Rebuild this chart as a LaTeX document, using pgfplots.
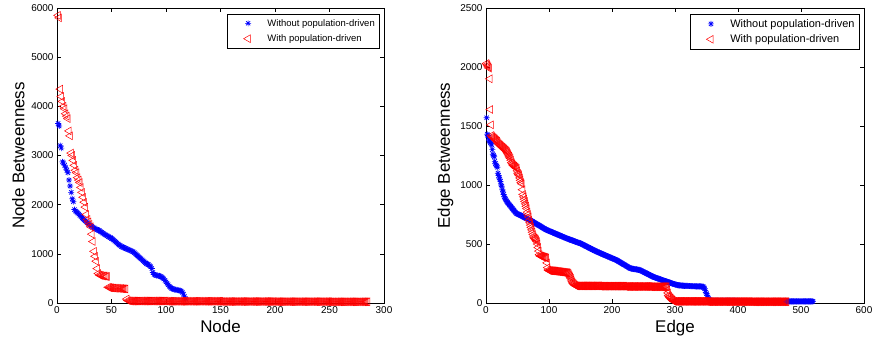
\documentclass[border=0pt]{standalone}
\usepackage{fontspec}
\setmainfont{Liberation Sans}
\usepackage{pgfplots}
\pgfplotsset{compat=1.18}
\pgfdeclareplotmark{mstar}{%
 \pgfpathmoveto{\pgfqpoint{-\pgfplotmarksize}{0pt}}\pgfpathlineto{\pgfqpoint{\pgfplotmarksize}{0pt}}%
 \pgfpathmoveto{\pgfqpoint{0pt}{-\pgfplotmarksize}}\pgfpathlineto{\pgfqpoint{0pt}{\pgfplotmarksize}}%
 \pgfpathmoveto{\pgfqpoint{-.707\pgfplotmarksize}{-.707\pgfplotmarksize}}\pgfpathlineto{\pgfqpoint{.707\pgfplotmarksize}{.707\pgfplotmarksize}}%
 \pgfpathmoveto{\pgfqpoint{-.707\pgfplotmarksize}{.707\pgfplotmarksize}}\pgfpathlineto{\pgfqpoint{.707\pgfplotmarksize}{-.707\pgfplotmarksize}}%
 \pgfusepathqstroke}
\pgfplotsset{
 mybase/.style={anchor=south west, scale only axis, height=295bp, clip=false,
  axis line style={line width=0.8pt},
  tick style={line width=0.6pt, black}, major tick length=4bp, tick align=inside,
  ticklabel style={font=\fontsize{10}{12}\selectfont},
  /pgf/number format/assume math mode=true, /pgf/number format/1000 sep={},
  scaled ticks=false,
  label style={font=\fontsize{17}{20}\selectfont},
  legend cell align=left},
 bluestar/.style={only marks, mark=mstar, color=blue, mark size=3pt, line width=0.7pt,
  legend image code/.code={\path (0cm,-2pt) (1.2cm,2pt);\draw[mark repeat=2,mark phase=2,##1] plot coordinates {(0cm,0cm)(0.6cm,0cm)(1.2cm,0cm)};}},
 redtri/.style={only marks, mark=triangle, color=red, mark size=4.5pt, line width=0.5pt,
  mark options={rotate=90},
  legend image code/.code={\path (0cm,-2pt) (1.2cm,2pt);\draw[mark repeat=2,mark phase=2,##1] plot coordinates {(0cm,0cm)(0.6cm,0cm)(1.2cm,0cm)};}},
}
\begin{document}
\begin{tikzpicture}
\useasboundingbox (0,0) rectangle (874bp,349bp);
\begin{axis}[mybase, at={(57bp,46bp)}, width=327bp,
 xmin=0, xmax=300, ymin=0, ymax=6000,
 xtick={0,50,...,300}, ytick={0,1000,...,6000},
 xlabel={Node}, ylabel={Node Betweenness},
 legend style={at={(0.988,0.98)}, anchor=north east, draw=black, line width=0.6pt,
  font=\fontsize{9.5}{11}\selectfont, inner xsep=3pt, inner ysep=3pt, row sep=3pt}]
\addplot[bluestar] coordinates {(1,3650)(2,3600)(3,3200)(4,3150)(5,2870)(6,2850)(7,2800)(8,2750)(9,2700)(10,2650)(11,2500)(12,2380)(13,2250)(14,2120)(15,2060)(16,1900)(17,1870)(18,1850)(19,1830)(20,1810)(21,1780)(22,1760)(23,1730)(24,1710)(25,1690)(26,1670)(27,1650)(28,1630)(29,1610)(30,1590)(31,1570)(32,1560)(33,1540)(34,1530)(35,1510)(36,1500)(37,1490)(38,1480)(39,1470)(40,1450)(41,1440)(42,1420)(43,1410)(44,1390)(45,1380)(46,1370)(47,1350)(48,1340)(49,1330)(50,1310)(51,1300)(52,1280)(53,1260)(54,1240)(55,1220)(56,1200)(57,1180)(58,1170)(59,1150)(60,1140)(61,1130)(62,1120)(63,1110)(64,1100)(65,1090)(66,1080)(67,1070)(68,1060)(69,1050)(70,1040)(71,1020)(72,1000)(73,980)(74,960)(75,940)(76,920)(77,900)(78,880)(79,860)(80,840)(81,820)(82,800)(83,790)(84,780)(85,760)(86,740)(87,700)(88,620)(89,580)(90,570)(91,560)(92,560)(93,550)(94,550)(95,540)(96,530)(97,510)(98,490)(99,460)(100,430)(101,400)(102,370)(103,340)(104,320)(105,300)(106,290)(107,280)(108,270)(109,270)(110,265)(111,260)(112,255)(113,250)(114,240)(115,220)(116,180)(117,130)(118,80)};
\addlegendentry{Without population-driven}
\addplot[redtri] coordinates {(1,5850)(2,5800)(3,4350)(4,4200)(5,4100)(6,4000)(7,3950)(8,3850)(9,3800)(10,3750)(11,3500)(12,3400)(13,3050)(14,3000)(15,2900)(16,2800)(17,2700)(18,2650)(19,2550)(20,2500)(21,2450)(22,2350)(23,2250)(24,2150)(25,2050)(26,1950)(27,1800)(28,1700)(29,1650)(30,1600)(31,1550)(32,1400)(33,1250)(34,1050)(35,950)(36,850)(37,700)(38,600)(39,570)(40,560)(41,560)(42,550)(43,550)(44,550)(45,540)(46,540)(47,320)(48,315)(49,310)(50,310)(51,305)(52,305)(53,300)(54,300)(55,300)(56,300)(57,295)(58,295)(59,295)(60,290)(61,290)(62,290)(63,285)(64,80)(65,50)(66,45)(67,42)
(68,40)(69,40)(70,40)(71,40)(72,40)(73,40)(74,40)(75,40)(76,40)(77,40)(78,40)(79,40)(80,40)(81,40)(82,40)(83,40)(84,40)(85,40)(86,40)(87,40)(88,40)(89,40)(90,40)(91,40)(92,40)(93,40)(94,40)(95,40)(96,40)(97,40)(98,40)(99,40)(100,40)
(101,35)(102,35)(103,35)(104,35)(105,35)(106,35)(107,35)(108,35)(109,35)(110,35)(111,35)(112,35)(113,35)(114,35)(115,35)(116,35)(117,35)(118,35)(119,35)(120,35)(121,35)(122,35)(123,35)(124,35)(125,35)(126,35)(127,35)(128,35)(129,35)(130,35)(131,35)(132,35)(133,35)(134,35)(135,35)(136,35)(137,35)(138,35)(139,35)(140,35)(141,35)(142,35)(143,35)(144,35)(145,35)(146,35)(147,35)(148,35)(149,35)(150,35)
(151,30)(152,30)(153,30)(154,30)(155,30)(156,30)(157,30)(158,30)(159,30)(160,30)(161,30)(162,30)(163,30)(164,30)(165,30)(166,30)(167,30)(168,30)(169,30)(170,30)(171,30)(172,30)(173,30)(174,30)(175,30)(176,30)(177,30)(178,30)(179,30)(180,30)(181,30)(182,30)(183,30)(184,30)(185,30)(186,30)(187,30)(188,30)(189,30)(190,30)(191,30)(192,30)(193,30)(194,30)(195,30)(196,30)(197,30)(198,30)(199,30)(200,30)
(201,28)(202,28)(203,28)(204,28)(205,28)(206,28)(207,28)(208,28)(209,28)(210,28)(211,28)(212,28)(213,28)(214,28)(215,28)(216,28)(217,28)(218,28)(219,28)(220,28)(221,28)(222,28)(223,28)(224,28)(225,28)(226,28)(227,28)(228,28)(229,28)(230,28)(231,28)(232,28)(233,28)(234,28)(235,28)(236,28)(237,28)(238,28)(239,28)(240,28)(241,28)(242,28)(243,28)(244,28)(245,28)(246,28)(247,28)(248,28)(249,28)(250,28)
(251,25)(252,25)(253,25)(254,25)(255,25)(256,25)(257,25)(258,25)(259,25)(260,25)(261,25)(262,25)(263,25)(264,25)(265,25)(266,25)(267,25)(268,25)(269,25)(270,25)(271,25)(272,25)(273,25)(274,25)(275,25)(276,25)(277,25)(278,25)(279,25)(280,25)(281,25)(282,25)(283,25)(284,25)(285,25)};
\addlegendentry{With population-driven}
\end{axis}
\begin{axis}[mybase, at={(486bp,46bp)}, width=378bp,
 xmin=0, xmax=600, ymin=0, ymax=2500,
 xtick={0,100,...,600}, ytick={0,500,...,2500},
 xlabel={Edge}, ylabel={Edge Betweenness},
 legend style={at={(0.989,0.98)}, anchor=north east, draw=black, line width=0.6pt,
  font=\fontsize{11}{12}\selectfont, inner xsep=3pt, inner ysep=3pt, row sep=2pt}]
\addplot[bluestar] coordinates {(1,1570)(2,1430)(3,1420)(4,1400)(5,1380)(6,1370)(7,1360)(8,1350)(9,1340)(10,1300)(11,1260)(12,1250)(13,1240)(14,1200)(15,1180)(16,1170)(17,1160)(18,1150)(19,1100)(20,1080)(21,1060)(22,1050)(23,1030)(24,1000)(25,990)(26,960)(27,940)(28,920)(29,900)(30,890)(31,880)(32,870)(33,860)(34,853)(35,846)(36,840)(37,833)(38,826)(39,820)(40,813)(41,806)(42,800)(43,793)(44,786)(45,780)(46,773)(47,766)(48,760)(49,757)(50,755)(51,752)(52,750)(53,747)(54,745)(55,742)(56,740)(57,737)(58,734)(59,731)(60,728)(61,725)(62,722)(63,720)(64,717)(65,714)(66,711)(67,709)(68,707)(69,705)(70,703)(71,700)(72,696)(73,693)(74,690)(75,686)(76,683)(77,680)(78,677)(79,674)(80,670)(81,667)(82,664)(83,661)(84,658)(85,655)(86,652)(87,648)(88,645)(89,642)(90,638)(91,635)(92,632)(93,629)(94,626)(95,623)(96,620)(97,618)(98,615)(99,613)(100,611)
(101,609)(102,606)(103,604)(104,602)(105,600)(106,597)(107,595)(108,593)(109,591)(110,588)(111,586)(112,584)(113,582)(114,579)(115,577)(116,575)(117,573)(118,570)(119,568)(120,566)(121,564)(122,561)(123,559)(124,557)(125,555)(126,552)(127,550)(128,548)(129,546)(130,544)(131,542)(132,540)(133,538)(134,536)(135,534)(136,532)(137,530)(138,528)(139,526)(140,524)(141,522)(142,520)(143,518)(144,516)(145,514)(146,512)(147,510)(148,509)(149,508)(150,505)(151,502)(152,500)(153,497)(154,494)(155,491)(156,489)(157,486)(158,483)(159,481)(160,478)(161,475)(162,472)(163,470)(164,467)(165,464)(166,462)(167,459)(168,456)(169,453)(170,451)(171,448)(172,445)(173,443)(174,440)(175,437)(176,435)(177,433)(178,430)(179,428)(180,426)(181,423)(182,421)(183,419)(184,416)(185,414)(186,412)(187,410)(188,407)(189,405)(190,403)(191,400)(192,398)(193,396)(194,394)(195,391)(196,389)(197,387)(198,384)(199,382)(200,380)
(201,377)(202,375)(203,373)(204,371)(205,368)(206,366)(207,364)(208,361)(209,358)(210,354)(211,351)(212,348)(213,345)(214,342)(215,339)(216,335)(217,332)(218,329)(219,326)(220,323)(221,320)(222,316)(223,313)(224,310)(225,307)(226,304)(227,300)(228,297)(229,294)(230,293)(231,292)(232,291)(233,290)(234,289)(235,288)(236,287)(237,286)(238,285)(239,284)(240,283)(241,282)(242,281)(243,281)(244,280)(245,277)(246,274)(247,272)(248,269)(249,266)(250,264)(251,261)(252,258)(253,256)(254,253)(255,250)(256,247)(257,245)(258,242)(259,239)(260,237)(261,234)(262,231)(263,228)(264,226)(265,223)(266,221)(267,219)(268,217)(269,215)(270,213)(271,211)(272,209)(273,207)(274,206)(275,204)(276,202)(277,200)(278,198)(279,196)(280,194)(281,192)(282,190)(283,188)(284,186)(285,185)(286,183)(287,181)(288,179)(289,177)(290,176)(291,174)(292,172)(293,170)(294,168)(295,167)(296,165)(297,163)(298,161)(299,160)(300,158)
(301,156)(302,155)(303,153)(304,152)(305,151)(306,150)(307,150)(308,149)(309,149)(310,148)(311,148)(312,147)(313,147)(314,146)(315,146)(316,146)(317,145)(318,145)(319,145)(320,145)(321,144)(322,144)(323,144)(324,144)(325,143)(326,143)(327,143)(328,143)(329,142)(330,142)(331,142)(332,142)(333,141)(334,141)(335,141)(336,141)(337,140)(338,140)(339,140)(340,140)(341,140)(342,139)(343,139)(344,138)(345,138)(346,130)(347,120)(348,105)(349,90)(350,80)(351,65)(352,50)(353,40)(354,30)(355,25)
(356,18)(357,18)(358,18)(359,18)(360,18)(361,18)(362,18)(363,18)(364,18)(365,18)(366,18)(367,18)(368,18)(369,18)(370,18)(371,18)(372,18)(373,18)(374,18)(375,18)(376,18)(377,18)(378,18)(379,18)(380,18)(381,18)(382,18)(383,18)(384,18)(385,18)(386,18)(387,18)(388,18)(389,18)(390,18)(391,18)(392,18)(393,18)(394,18)(395,18)(396,18)(397,18)(398,18)(399,18)(400,18)
(401,16)(402,16)(403,16)(404,16)(405,16)(406,16)(407,16)(408,16)(409,16)(410,16)(411,16)(412,16)(413,16)(414,16)(415,16)(416,16)(417,16)(418,16)(419,16)(420,16)(421,16)(422,16)(423,16)(424,16)(425,16)(426,16)(427,16)(428,16)(429,16)(430,16)(431,16)(432,16)(433,16)(434,16)(435,16)(436,16)(437,16)(438,16)(439,16)(440,16)(441,16)(442,16)(443,16)(444,16)(445,16)(446,16)(447,16)(448,16)(449,16)(450,16)
(451,14)(452,14)(453,14)(454,14)(455,14)(456,14)(457,14)(458,14)(459,14)(460,14)(461,14)(462,14)(463,14)(464,14)(465,14)(466,14)(467,14)(468,14)(469,14)(470,14)(471,14)(472,14)(473,14)(474,14)(475,14)(476,14)(477,14)(478,14)(479,14)(480,14)(481,14)(482,14)(483,14)(484,14)(485,14)(486,14)(487,14)(488,14)(489,14)(490,14)(491,14)(492,14)(493,14)(494,14)(495,14)(496,14)(497,14)(498,14)(499,14)(500,14)(501,14)(502,14)(503,14)(504,14)(505,14)(506,14)(507,14)(508,14)(509,14)(510,14)(511,14)(512,14)(513,14)(514,14)(515,14)(516,14)(517,14)(518,14)(519,14)};
\addlegendentry{Without population-driven}
\addplot[redtri] coordinates {(1,2030)(2,2020)(3,2010)(4,2000)(5,1990)(6,1900)(7,1640)(8,1510)(9,1420)(10,1410)(11,1405)(12,1400)(13,1395)(14,1390)(15,1385)(16,1380)(17,1375)(18,1370)(19,1360)(20,1350)(21,1345)(22,1340)(23,1335)(24,1330)(25,1325)(26,1320)(27,1315)(28,1310)(29,1305)(30,1300)(31,1295)(32,1290)(33,1285)(34,1275)(35,1265)(36,1255)(37,1245)(38,1235)(39,1225)(40,1210)(41,1190)(42,1180)(43,1170)(44,1165)(45,1160)(46,1155)(47,1150)(48,1145)(49,1140)(50,1120)(51,1100)(52,1090)(53,1080)(54,1060)(55,1040)(56,1020)(57,1010)(58,960)(59,920)(60,900)(61,880)(62,860)(63,840)(64,820)(65,800)(66,770)(67,750)(68,730)(69,700)(70,680)(71,660)(72,640)(73,620)(74,600)(75,580)(76,560)(77,550)(78,545)(79,540)(80,530)(81,520)(82,500)(83,470)(84,440)(85,410)(86,400)(87,398)(88,396)(89,394)(90,392)(91,390)(92,389)(93,388)(94,386)(95,385)(96,380)(97,340)(98,300)(99,280)(100,275)
(101,275)(102,274)(103,274)(104,273)(105,273)(106,272)(107,272)(108,271)(109,270)(110,270)(111,269)(112,268)(113,268)(114,267)(115,266)(116,266)(117,265)(118,264)(119,263)(120,263)(121,262)(122,261)(123,260)(124,260)(125,259)(126,258)(127,257)(128,257)(129,256)(130,255)(131,250)(132,240)(133,230)(134,220)(135,210)(136,195)(137,180)(138,170)(139,165)(140,158)(141,152)(142,148)(143,146)(144,145)
(145,145)(146,145)(147,145)(148,145)(149,145)(150,145)(151,145)(152,145)(153,145)(154,145)(155,145)(156,145)(157,145)(158,145)(159,145)(160,145)(161,145)(162,145)(163,145)(164,145)(165,145)(166,145)(167,145)(168,145)(169,145)(170,145)(171,145)(172,145)(173,145)(174,145)(175,145)(176,145)(177,145)(178,145)(179,145)(180,145)
(181,143)(182,143)(183,143)(184,143)(185,143)(186,143)(187,143)(188,143)(189,143)(190,143)(191,143)(192,143)(193,143)(194,143)(195,143)(196,143)(197,143)(198,143)(199,143)(200,143)(201,143)(202,143)(203,143)(204,143)(205,143)(206,143)(207,143)(208,143)(209,143)(210,143)(211,143)(212,143)(213,143)(214,143)(215,143)(216,143)(217,143)(218,143)(219,143)(220,143)
(221,140)(222,140)(223,140)(224,140)(225,140)(226,140)(227,140)(228,140)(229,140)(230,140)(231,140)(232,140)(233,140)(234,140)(235,140)(236,140)(237,140)(238,140)(239,140)(240,140)(241,140)(242,140)(243,140)(244,140)(245,140)(246,140)(247,140)(248,140)(249,140)(250,140)(251,140)(252,140)(253,140)(254,140)(255,140)(256,140)(257,140)(258,140)(259,140)(260,140)
(261,138)(262,138)(263,138)(264,138)(265,138)(266,138)(267,138)(268,138)(269,138)(270,138)(271,138)(272,138)(273,138)(274,138)(275,138)(276,138)(277,138)(278,138)(279,138)(280,138)(281,138)(282,138)(283,138)(284,138)(285,138)(286,138)(287,138)(288,110)(289,85)(290,65)(291,55)(292,48)(293,42)(294,36)(295,30)(296,25)(297,20)
(298,14)(299,14)(300,14)(301,14)(302,14)(303,14)(304,14)(305,14)(306,14)(307,14)(308,14)(309,14)(310,14)(311,14)(312,14)(313,14)(314,14)(315,14)(316,14)(317,14)(318,14)(319,14)(320,14)(321,14)(322,14)(323,14)(324,14)(325,14)(326,14)(327,14)(328,14)(329,14)(330,14)(331,14)(332,14)(333,14)(334,14)(335,14)(336,14)(337,14)(338,14)(339,14)(340,14)(341,14)(342,14)(343,14)(344,14)(345,14)(346,14)(347,14)(348,14)(349,14)(350,14)
(351,12)(352,12)(353,12)(354,12)(355,12)(356,12)(357,12)(358,12)(359,12)(360,12)(361,12)(362,12)(363,12)(364,12)(365,12)(366,12)(367,12)(368,12)(369,12)(370,12)(371,12)(372,12)(373,12)(374,12)(375,12)(376,12)(377,12)(378,12)(379,12)(380,12)(381,12)(382,12)(383,12)(384,12)(385,12)(386,12)(387,12)(388,12)(389,12)(390,12)(391,12)(392,12)(393,12)(394,12)(395,12)(396,12)(397,12)(398,12)(399,12)(400,12)(401,12)(402,12)(403,12)(404,12)(405,12)(406,12)(407,12)(408,12)(409,12)(410,12)(411,12)(412,12)(413,12)(414,12)(415,12)(416,12)(417,12)(418,12)(419,12)(420,12)
(421,11)(422,11)(423,11)(424,11)(425,11)(426,11)(427,11)(428,11)(429,11)(430,11)(431,11)(432,11)(433,11)(434,11)(435,11)(436,11)(437,11)(438,11)(439,11)(440,11)(441,11)(442,11)(443,11)(444,11)(445,11)(446,11)(447,11)(448,11)(449,11)(450,11)(451,11)(452,11)(453,11)(454,11)(455,11)(456,11)(457,11)(458,11)(459,11)(460,11)(461,11)(462,11)(463,11)(464,11)(465,11)(466,11)(467,11)(468,11)(469,11)(470,11)(471,11)(472,11)(473,11)(474,11)(475,11)(476,11)(477,11)};
\addlegendentry{With population-driven}
\end{axis}
\end{tikzpicture}
\end{document}
